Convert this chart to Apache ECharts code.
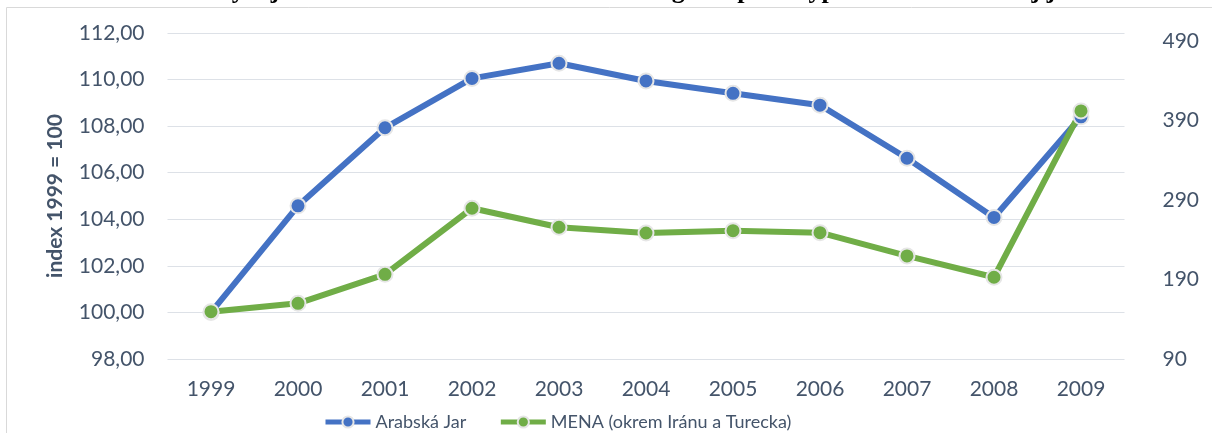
<!DOCTYPE html>
<html>
<head>
<meta charset="utf-8">
<script src="https://cdn.jsdelivr.net/npm/echarts@6/dist/echarts.min.js"></script>
<style>
  html, body { margin: 0; padding: 0; background: #fff; }
  #chart { width: 1212px; height: 433px; }
</style>
</head>
<body>
<div id="chart"></div>
<script>
// values
const years = ['1999', '2000', '2001', '2002', '2003', '2004', '2005', '2006', '2007', '2008', '2009']
const arabSpring = [100.0, 104.58, 107.93, 110.05, 110.7, 109.94, 109.41, 108.9, 106.62, 104.08, 108.4]
const mena = [149.5, 160, 196.5, 279.6, 255.7, 248.5, 251.4, 248.9, 219.6, 192.8, 402]
const rightTicks = [90, 190, 290, 390, 490]

const font = 'Lato'
const textColor = '#44546a'

const chart = echarts.init(document.getElementById('chart'))

const symbolStyle = (color) => ({
  color: color,
  borderColor: '#e6e6e6',
  borderWidth: 2
})

chart.setOption({
  animation: false,
  title: {
    text: 'Graf 3: Vývoj HDP v štátoch MENA a v celom regióne pred vypuknutím Arabskej jari',
    left: 'center',
    top: -22,
    padding: 0,
    textStyle: {
      fontFamily: 'Liberation Serif',
      fontWeight: 'bold',
      fontSize: 26,
      color: '#000'
    }
  },
  graphic: [{
    type: 'rect',
    shape: {x: 6.5, y: 7.5, width: 1220, height: 440},
    style: {fill: 'none', stroke: '#d9d9d9', lineWidth: 1},
    silent: true
  }],
  grid: {left: 167.5, right: 87.5, top: 33, bottom: 74},
  legend: {
    left: 318,
    top: 408,
    itemWidth: 45,
    itemHeight: 14,
    itemGap: 32,
    lineStyle: {width: 5},
    textStyle: {fontFamily: font, fontSize: 18, color: textColor},
    data: ['Arabská Jar', 'MENA (okrem Iránu a Turecka)']
  },
  xAxis: {
    type: 'category',
    data: years,
    axisLine: {show: false},
    axisTick: {show: false},
    axisLabel: {fontFamily: font, fontSize: 21, color: textColor, margin: 20}
  },
  yAxis: [{
    type: 'value',
    min: 98,
    max: 112,
    interval: 2,
    name: 'index 1999 = 100',
    nameLocation: 'middle',
    nameGap: 102,
    nameTextStyle: {fontFamily: font, fontSize: 21, fontWeight: 'bold', color: textColor},
    axisLabel: {
      fontFamily: font, fontSize: 21, color: textColor, margin: 23,
      formatter: v => v.toFixed(2).replace('.', ',')
    },
    splitLine: {lineStyle: {color: '#dde1e7', width: 1}}
  }, {
    type: 'value',
    min: 90,
    max: 500,
    position: 'right',
    axisLine: {show: false},
    axisTick: {show: false},
    splitLine: {show: false},
    axisLabel: {
      fontFamily: font, fontSize: 21, color: textColor, margin: 38,
      customValues: rightTicks
    }
  }],
  series: [{
    name: 'Arabská Jar',
    type: 'line',
    data: arabSpring,
    yAxisIndex: 0,
    symbol: 'circle',
    symbolSize: 15,
    lineStyle: {color: '#4472c4', width: 6},
    itemStyle: symbolStyle('#4472c4')
  }, {
    name: 'MENA (okrem Iránu a Turecka)',
    type: 'line',
    data: mena,
    yAxisIndex: 1,
    symbol: 'circle',
    symbolSize: 15,
    lineStyle: {color: '#70ad47', width: 6},
    itemStyle: symbolStyle('#70ad47')
  }]
})
</script>
</body>
</html>
